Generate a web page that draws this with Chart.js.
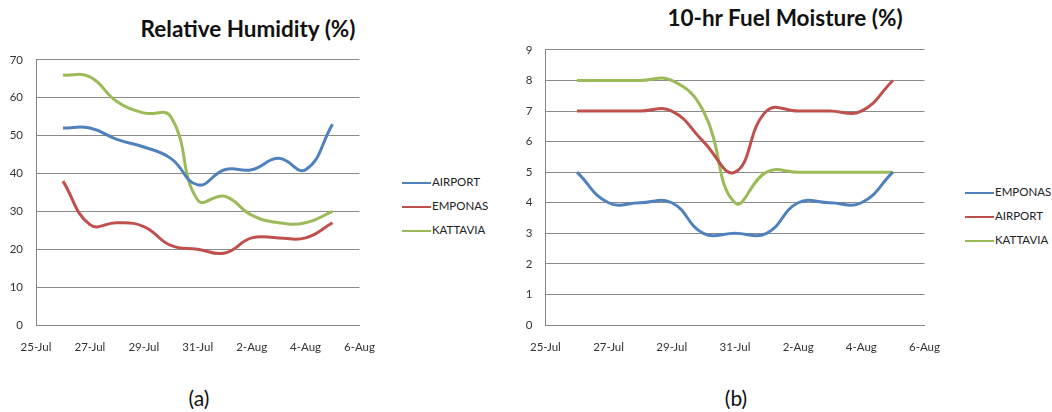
<!DOCTYPE html>
<html>
<head>
<meta charset="utf-8">
<script src="https://cdn.jsdelivr.net/npm/chart.js@4"></script>
<style>
  html, body { margin: 0; padding: 0; background: #fff; }
  body { width: 1052px; height: 412px; position: relative; overflow: hidden; font-family: Lato, "Open Sans", sans-serif; }
  .box { position: absolute; }
  .title { position: absolute; font-weight: bold; font-size: 22.5px; color: #111; white-space: nowrap; transform: translate(-50%, -50%); }
  .cap { position: absolute; font-size: 21px; color: #111; transform: translate(-50%, -50%); }
  .legend { position: absolute; font-size: 11.5px; color: #222; }
  .legend div { position: relative; height: 24px; line-height: 24px; white-space: nowrap; }
  .legend span.sw { display: inline-block; width: 29px; height: 2.5px; vertical-align: middle; margin-right: 1px; }
</style>
</head>
<body>
<div class="title" style="left:248px; top:28px;">Relative Humidity (%)</div>
<div class="title" style="left:785px; top:17px;">10-hr Fuel Moisture (%)</div>
<div class="box" style="left:0px; top:40px; width:390px; height:330px;"><canvas id="c1"></canvas></div>
<div class="box" style="left:515px; top:30px; width:440px; height:340px;"><canvas id="c2"></canvas></div>
<div class="legend" id="lg1" style="left:402px; top:170px;"></div>
<div class="legend" id="lg2" style="left:965px; top:180px;"></div>
<div class="cap" style="left:199px; top:397px;">(a)</div>
<div class="cap" style="left:736px; top:397px;">(b)</div>
<script>
// Dates of the daily observations (day offset from 25-Jul is index + 1)
const dates = ['26-Jul','27-Jul','28-Jul','29-Jul','30-Jul','31-Jul','1-Aug','2-Aug','3-Aug','4-Aug','5-Aug'];
const xTickLabels = ['25-Jul','27-Jul','29-Jul','31-Jul','2-Aug','4-Aug','6-Aug'];

// (a) Relative Humidity (%)
const rhAirport  = [52, 52, 49, 47, 44, 37, 41, 41, 44, 41, 53];
const rhEmponas  = [38, 26.5, 27, 26, 21, 20, 19, 23, 23, 23, 27];
const rhKattavia = [66, 65.5, 59, 56, 55, 33, 34, 29, 27, 27, 30];

// (b) 10-hr Fuel Moisture (%)
const fmEmponas  = [5, 4, 4, 4, 3, 3, 3, 4, 4, 4, 5];
const fmAirport  = [7, 7, 7, 7, 6, 5, 7, 7, 7, 7, 8];
const fmKattavia = [8, 8, 8, 8, 7, 4, 5, 5, 5, 5, 5];

const BLUE = '#4F81BD', RED = '#C0504D', GREEN = '#9BBB59';

function pts(vals) { return vals.map((v, i) => ({ x: i + 1, y: v })); }

function ds(label, vals, color) {
  return { label, data: pts(vals), borderColor: color, backgroundColor: color,
           borderWidth: 3, pointRadius: 0, tension: 0.45, fill: false };
}

function makeChart(id, datasets, yMax, yStep, yWidth, padTop, padRight) {
  return new Chart(document.getElementById(id), {
    type: 'line',
    data: { datasets },
    options: {
      responsive: true, maintainAspectRatio: false, animation: false,
      layout: { padding: { top: padTop, right: padRight, left: 0, bottom: 0 } },
      plugins: { legend: { display: false }, tooltip: { enabled: false } },
      scales: {
        x: {
          type: 'linear', min: 0, max: 12,
          afterBuildTicks: s => { s.ticks = xTickLabels.map((_, i) => ({ value: i * 2 })); },
          afterFit: s => { s.height = 45; },
          grid: { display: false, drawTicks: false },
          border: { color: '#868686', width: 1 },
          ticks: { padding: 15, maxRotation: 0, autoSkip: false, color: '#333',
                   font: { family: 'Lato', size: 11.5 },
                   callback: (v) => xTickLabels[Math.round(v / 2)] }
        },
        y: {
          min: 0, max: yMax,
          afterFit: s => { s.width = yWidth; },
          grid: { color: '#8a8a8a', lineWidth: 1, drawTicks: false },
          border: { color: '#868686', width: 1 },
          ticks: { stepSize: yStep, padding: 13, color: '#333',
                   font: { family: 'Lato', size: 11.5 } }
        }
      }
    }
  });
}

const setA = [ds('AIRPORT', rhAirport, BLUE), ds('EMPONAS', rhEmponas, RED), ds('KATTAVIA', rhKattavia, GREEN)];
const setB = [ds('EMPONAS', fmEmponas, BLUE), ds('AIRPORT', fmAirport, RED), ds('KATTAVIA', fmKattavia, GREEN)];

makeChart('c1', setA, 70, 10, 36, 19, 24);
makeChart('c2', setB, 9, 1, 27, 17, 27);

function legend(elId, sets) {
  const el = document.getElementById(elId);
  sets.forEach(d => {
    const row = document.createElement('div');
    const sw = document.createElement('span');
    sw.className = 'sw'; sw.style.background = d.borderColor;
    row.appendChild(sw);
    row.appendChild(document.createTextNode(d.label));
    el.appendChild(row);
  });
}
legend('lg1', setA);
legend('lg2', setB);
</script>
</body>
</html>
